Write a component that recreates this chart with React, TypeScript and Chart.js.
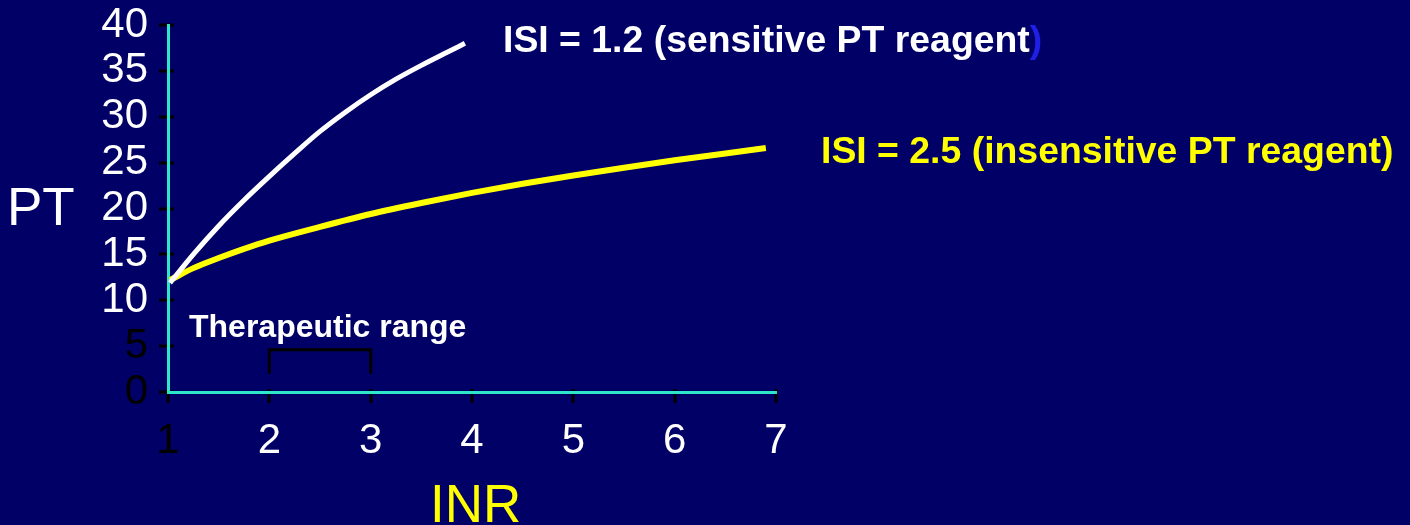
import React, { useEffect, useRef } from 'react';
import { Chart, registerables } from 'chart.js';

Chart.register(...registerables);

// ---- data ----
const WHITE_INR = [1.02, 1.25, 1.5, 1.75, 2.0, 2.25, 2.5, 2.75, 3.0, 3.25, 3.5, 3.75, 3.93];
const WHITE_PT = [11.9, 15.0, 18.1, 20.9, 23.5, 26.0, 28.4, 30.5, 32.4, 34.1, 35.6, 37.0, 38.0];

const YELLOW_INR = [1.02, 1.25, 1.5, 1.75, 2.0, 2.5, 3.0, 3.5, 4.0, 4.5, 5.0, 5.5, 6.0, 6.5, 6.9];
const YELLOW_PT = [12.2, 13.5, 14.6, 15.6, 16.5, 18.0, 19.4, 20.6, 21.7, 22.7, 23.6, 24.45, 25.25, 26.0, 26.6];

const RANGE_INR = [2, 2, 3, 3];
const RANGE_PT = [2.0, 4.6, 4.6, 2.0];

const X_TICKS = [1, 2, 3, 4, 5, 6, 7];
const Y_TICKS = [0, 5, 10, 15, 20, 25, 30, 35, 40];
const BLACK_Y_LABELS = [0, 5];
const BLACK_X_LABELS = [1];

const X_TITLE = 'INR';
const Y_TITLE = 'PT';
const LABEL_SENSITIVE = 'ISI = 1.2 (sensitive PT reagent';
const LABEL_SENSITIVE_END = ')';
const LABEL_INSENSITIVE = 'ISI = 2.5 (insensitive PT reagent)';
const LABEL_RANGE = 'Therapeutic range';

// ---- styles ----
const BG = '#000066';
const AXIS = '#2ee6c8';
const YELLOW = '#ffff00';
const WHITE = '#ffffff';
const FONT = '"Liberation Sans", Arial, sans-serif';

const toPoints = (xs: number[], ys: number[]) => xs.map((x, i) => ({ x, y: ys[i] }));

const overlay = {
  id: 'overlay',
  beforeDraw(chart: any) {
    const { ctx, width, height } = chart;
    ctx.save();
    ctx.fillStyle = BG;
    ctx.fillRect(0, 0, width, height);
    const xs = chart.scales.x;
    const ys = chart.scales.y;
    const ca = chart.chartArea;
    ctx.strokeStyle = '#000000';
    ctx.lineWidth = 3;
    ys.ticks.forEach((t: any) => {
      const py = Math.round(ys.getPixelForValue(t.value));
      ctx.beginPath();
      ctx.moveTo(ca.left - 9, py);
      ctx.lineTo(ca.left + 6, py);
      ctx.stroke();
    });
    xs.ticks.forEach((t: any) => {
      const px = Math.round(xs.getPixelForValue(t.value));
      ctx.beginPath();
      ctx.moveTo(px, ca.bottom - 3);
      ctx.lineTo(px, ca.bottom + 11);
      ctx.stroke();
    });
    ctx.restore();
  },
  afterDraw(chart: any) {
    const { ctx } = chart;
    ctx.save();
    ctx.textBaseline = 'alphabetic';
    ctx.textAlign = 'left';

    ctx.fillStyle = WHITE;
    ctx.font = `53px ${FONT}`;
    ctx.fillText(Y_TITLE, 7, 225);

    ctx.fillStyle = YELLOW;
    ctx.font = `53px ${FONT}`;
    ctx.fillText(X_TITLE, 430, 522);

    ctx.font = `bold 37.4px ${FONT}`;
    ctx.fillStyle = WHITE;
    ctx.fillText(LABEL_SENSITIVE, 503, 52);
    const w = ctx.measureText(LABEL_SENSITIVE).width;
    ctx.fillStyle = '#1f1fe6';
    ctx.fillText(LABEL_SENSITIVE_END, 503 + w, 52);

    ctx.fillStyle = YELLOW;
    ctx.fillText(LABEL_INSENSITIVE, 821, 163);

    ctx.fillStyle = WHITE;
    ctx.font = `bold 32px ${FONT}`;
    ctx.fillText(LABEL_RANGE, 189, 337);
    ctx.restore();
  },
};

export default function App() {
  const ref = useRef<HTMLCanvasElement | null>(null);

  useEffect(() => {
    if (!ref.current) return;
    const chart = new Chart(ref.current, {
      type: 'line',
      data: {
        datasets: [
          {
            data: toPoints(WHITE_INR, WHITE_PT),
            borderColor: WHITE,
            borderWidth: 5,
            pointRadius: 0,
            cubicInterpolationMode: 'monotone',
            fill: false,
          },
          {
            data: toPoints(YELLOW_INR, YELLOW_PT),
            borderColor: YELLOW,
            borderWidth: 6,
            pointRadius: 0,
            cubicInterpolationMode: 'monotone',
            fill: false,
          },
          {
            data: toPoints(RANGE_INR, RANGE_PT),
            borderColor: '#000000',
            borderWidth: 3,
            pointRadius: 0,
            tension: 0,
            fill: false,
            borderJoinStyle: 'miter',
          },
        ],
      },
      options: {
        animation: false,
        responsive: false,
        devicePixelRatio: 1,
        layout: { padding: { left: 0, top: 25, right: 634, bottom: 0 } },
        plugins: { legend: { display: false }, tooltip: { enabled: false } },
        scales: {
          x: {
            type: 'linear',
            min: 1,
            max: 7,
            afterBuildTicks: (s: any) => {
              s.ticks = X_TICKS.map((v) => ({ value: v }));
            },
            afterFit: (s: any) => {
              s.height = 133;
              s.paddingLeft = 0;
              s.paddingRight = 0;
            },
            grid: { display: false, drawTicks: false },
            border: { display: true, color: AXIS, width: 3 },
            ticks: {
              padding: 24,
              font: { family: FONT, size: 42 },
              color: (c: any) => (BLACK_X_LABELS.includes(c.tick?.value) ? '#000000' : WHITE),
              maxRotation: 0,
              autoSkip: false,
            },
          },
          y: {
            type: 'linear',
            min: 0,
            max: 40,
            afterBuildTicks: (s: any) => {
              s.ticks = Y_TICKS.map((v) => ({ value: v }));
            },
            afterFit: (s: any) => {
              s.width = 168;
              s.paddingTop = 0;
              s.paddingBottom = 0;
            },
            grid: { display: false, drawTicks: false },
            border: { display: true, color: AXIS, width: 3 },
            ticks: {
              padding: 20,
              font: { family: FONT, size: 42 },
              color: (c: any) => (BLACK_Y_LABELS.includes(c.tick?.value) ? '#000000' : WHITE),
              autoSkip: false,
            },
          },
        },
      },
      plugins: [overlay],
    });
    return () => chart.destroy();
  }, []);

  return (
    <div style={{ position: 'fixed', left: 0, top: 0, width: 1410, height: 525, background: BG }}>
      <canvas ref={ref} width={1410} height={525} style={{ display: 'block' }} />
    </div>
  );
}
